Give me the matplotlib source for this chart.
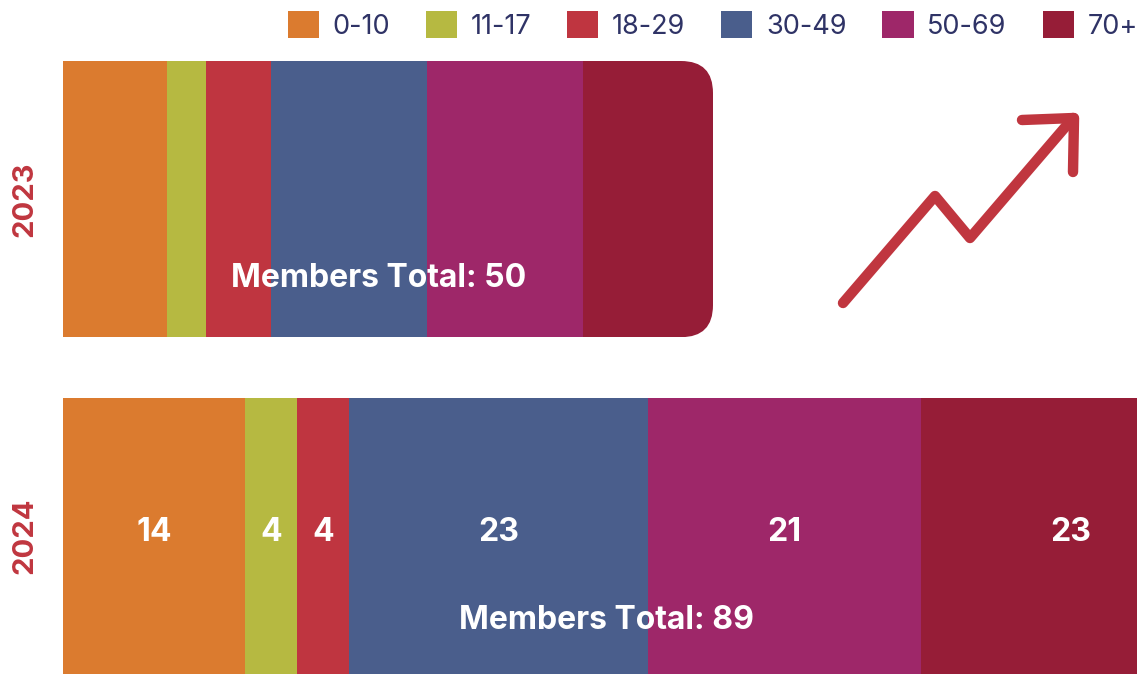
import numpy as np
import matplotlib as mpl
mpl.use('Agg')
import matplotlib.pyplot as plt
from matplotlib.patches import Patch, FancyBboxPatch
from matplotlib.lines import Line2D

plt.rcParams['font.family'] = ['Inter', 'DejaVu Sans']

years = ['2023', '2024']
groups = ['0-10', '11-17', '18-29', '30-49', '50-69', '70+']
counts_2023 = [8, 3, 5, 12, 12, 10]
counts_2024 = [14, 4, 4, 23, 21, 23]
colors = ['#db7b2f', '#b6b941', '#bf3540', '#4a5e8c', '#9e2769', '#961d37']

red = '#c0363f'
navy = '#2f3366'

W, H = 1137, 674
fig = plt.figure(figsize=(W / 100, H / 100), dpi=100)
ax = fig.add_axes([63 / W, 0, 1 - 63 / W, 1 - 61 / H])

data = np.array([counts_2023, counts_2024])
ypos = np.arange(len(years))
bar_h = 0.82
left = np.zeros(len(years))
containers = []
for i, g in enumerate(groups):
    bc = ax.barh(ypos, data[:, i], left=left, height=bar_h, color=colors[i],
                 edgecolor='none', label=g)
    containers.append(bc)
    # segment labels only on 2024
    ax.text(left[1] + data[1, i] / 2, ypos[1] - 0.01, str(data[1, i]),
            ha='center', va='center', color='white', fontsize=23,
            fontweight='bold')
    left = left + data[:, i]

# x range: 13 px per member, bar for 2024 runs off the right edge
px_per_unit = 13.0
ax.set_xlim(0, (W - 63) / px_per_unit)
ax.set_ylim(ypos[-1] + bar_h / 2, ypos[0] - bar_h / 2)

# rounded right end of 2023 bar
total23 = sum(counts_2023)
seg_left = total23 - counts_2023[-1]
y_per_px = (ax.get_ylim()[0] - ax.get_ylim()[1]) / (H - 61)
r_x = 32 / px_per_unit
clip = FancyBboxPatch((seg_left - 5, ypos[0] - bar_h / 2),
                      total23 - seg_left + 5, bar_h,
                      boxstyle='round,pad=0,rounding_size=%f' % r_x,
                      mutation_aspect=y_per_px * px_per_unit,
                      transform=ax.transData)
containers[-1].patches[0].set_clip_path(clip)

# totals
totals = data.sum(axis=1)
ax.text(total23 / 2 - 0.7, ypos[0] + 0.235, 'Members Total: %d' % totals[0],
        ha='center', va='center', color='white', fontsize=23, fontweight='bold')
ax.text(ax.get_xlim()[1] / 2 + 0.5, ypos[1] + 0.25, 'Members Total: %d' % totals[1],
        ha='center', va='center', color='white', fontsize=23, fontweight='bold')

ax.set_yticks(ypos)
ax.set_yticklabels(years, rotation=90, va='center', color=red,
                   fontsize=21, fontweight='bold')
ax.tick_params(axis='y', length=0, pad=18)
ax.set_xticks([])
for s in ax.spines.values():
    s.set_visible(False)

handles = [Patch(facecolor=c, edgecolor='none') for c in colors]
fig.legend(handles, groups, loc='upper right', bbox_to_anchor=(1.022, 1.02),
           ncol=6, frameon=False, fontsize=19.5, labelcolor=navy,
           handlelength=1.15, handleheight=1.15, handletextpad=0.5,
           columnspacing=1.33)

# trend arrow icon
def fpt(px, py):
    return px / W, 1 - py / H

pts = [fpt(843, 303), fpt(935, 196), fpt(970, 238), fpt(1073, 118)]
head = [fpt(1022, 120), fpt(1074, 118), fpt(1073, 172)]
for p in (pts, head):
    xs, ys = zip(*p)
    fig.add_artist(Line2D(xs, ys, transform=fig.transFigure, color=red,
                          lw=7.5, solid_capstyle='round', solid_joinstyle='round'))

fig.savefig('out.png', dpi=100)
